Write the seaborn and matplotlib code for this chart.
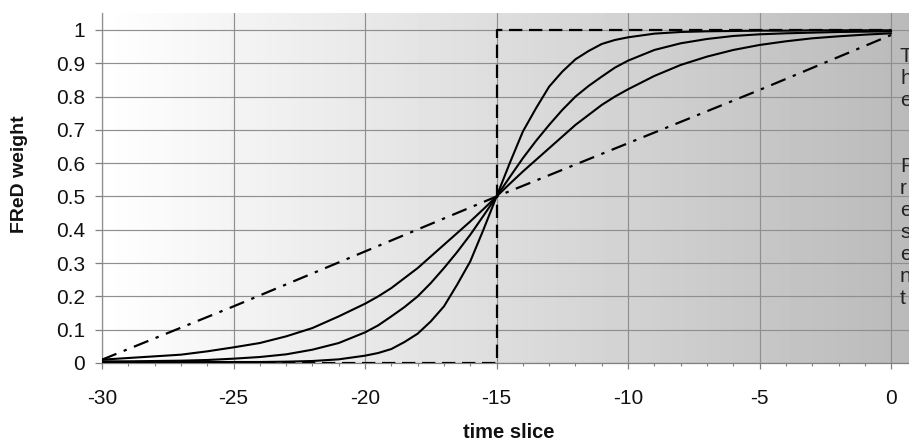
import numpy as np
import pandas as pd
import matplotlib
matplotlib.use("Agg")
import matplotlib.pyplot as plt
import seaborn as sns

# ---- data ----
time_slice = [-30, -29, -28, -27, -26, -25, -24, -23, -22, -21, -20,
              -19.5, -19, -18.5, -18, -17.5, -17, -16.5, -16, -15.5, -15,
              -14.5, -14, -13.5, -13, -12.5, -12, -11.5, -11, -10.5,
              -10, -9, -8, -7, -6, -5, -4, -3, -2, -1, 0]
curve_soft = [0.01, 0.015, 0.02, 0.025, 0.035, 0.047, 0.06, 0.08, 0.105, 0.14, 0.178,
              0.2, 0.225, 0.255, 0.285, 0.32, 0.355, 0.39, 0.425, 0.462, 0.5,
              0.538, 0.575, 0.61, 0.645, 0.68, 0.715, 0.745, 0.775, 0.8,
              0.822, 0.862, 0.895, 0.92, 0.94, 0.955, 0.966, 0.975, 0.981, 0.986, 0.99]
curve_mid = [0.005, 0.005, 0.006, 0.007, 0.009, 0.013, 0.018, 0.026, 0.04, 0.06, 0.092,
             0.113, 0.14, 0.168, 0.2, 0.24, 0.285, 0.333, 0.385, 0.442, 0.5,
             0.558, 0.615, 0.667, 0.715, 0.76, 0.8, 0.832, 0.86, 0.887,
             0.908, 0.94, 0.96, 0.973, 0.982, 0.987, 0.99, 0.992, 0.994, 0.995, 0.996]
curve_sharp = [0.003, 0.003, 0.003, 0.003, 0.003, 0.003, 0.003, 0.004, 0.006, 0.011, 0.022,
               0.03, 0.042, 0.063, 0.088, 0.125, 0.17, 0.235, 0.305, 0.4, 0.5,
               0.6, 0.695, 0.765, 0.83, 0.875, 0.912, 0.937, 0.958, 0.97,
               0.978, 0.989, 0.994, 0.996, 0.997, 0.998, 0.998, 0.999, 0.999, 0.999, 0.999]
linear_x = [-30, -25, -20, -15, -10, -5, 0]
linear_y = [0.01, 0.17, 0.335, 0.5, 0.66, 0.82, 0.985]
step_x = [-30, -15, -15, 0]
step_y = [0, 0, 1, 1]
x_ticks = [-30, -25, -20, -15, -10, -5, 0]
x_tick_labels = ["-30", "-25", "-20", "-15", "-10", "-5", "0"]
x_minor = list(range(-30, 1))
y_ticks = [0, 0.1, 0.2, 0.3, 0.4, 0.5, 0.6, 0.7, 0.8, 0.9, 1]
y_tick_labels = ["0", "0.1", "0.2", "0.3", "0.4", "0.5", "0.6", "0.7", "0.8", "0.9", "1"]
side_text = "T\nh\ne\n\n\nP\nr\ne\ns\ne\nn\nt"

sns.set_theme(style="white")
plt.rcParams['font.family'] = ['Liberation Sans', 'DejaVu Sans']

W, H = 909, 443
fig = plt.figure(figsize=(W / 100, H / 100), dpi=100)
ax = fig.add_axes([102 / W, (H - 363) / H, (W - 102) / W, (363 - 13) / H])

x_max = 0.68
y_max = 1.051
ax.set_xlim(-30, x_max)
ax.set_ylim(0, y_max)

# gradient background
grad = np.linspace(1.0, 0.73, 256).reshape(1, -1)
ax.imshow(grad, extent=[-30, x_max, 0, y_max], aspect='auto', cmap='gray',
          vmin=0, vmax=1, zorder=0, interpolation='bilinear')

ax.set_xticks(x_ticks)
ax.set_xticklabels(x_tick_labels)
ax.set_xticks(x_minor, minor=True)
ax.set_yticks(y_ticks)
ax.set_yticklabels(y_tick_labels)
ax.grid(True, which='major', color='#8f8f8f', linewidth=0.85, zorder=1)
ax.set_axisbelow(False)

gc = '#808080'
for s in ['top', 'right']:
    ax.spines[s].set_visible(False)
for s in ['left', 'bottom']:
    ax.spines[s].set_color(gc)
    ax.spines[s].set_linewidth(0.9)
ax.tick_params(axis='x', which='major', direction='out', length=4, width=0.9,
               color=gc, labelsize=15, pad=15, bottom=True, labelcolor='#111111')
ax.tick_params(axis='x', which='minor', direction='out', length=2.2, width=0.8,
               color=gc, bottom=True)
ax.tick_params(axis='y', which='major', direction='out', length=5, width=0.9,
               color=gc, labelsize=15, pad=7, left=True, labelcolor='#111111')

# curves
sns.lineplot(x=step_x, y=step_y, ax=ax, color='black', linewidth=1.6,
             estimator=None, sort=False, zorder=3)
ax.lines[-1].set_dashes([6, 3])
sns.lineplot(x=linear_x, y=linear_y, ax=ax, color='black', linewidth=1.6,
             estimator=None, sort=False, zorder=3)
ax.lines[-1].set_dashes([7, 3.5, 1.5, 3.5])
for yv in (curve_soft, curve_mid, curve_sharp):
    sns.lineplot(x=time_slice, y=yv, ax=ax, color='black', linewidth=1.5,
                 estimator=None, sort=False, zorder=3)

ax.set_xlabel("time slice", fontsize=14.5, fontweight='bold', color='#111111')
ax.set_ylabel("FReD weight", fontsize=14, fontweight='bold', color='#111111')
ax.xaxis.set_label_coords((509 - 102) / (W - 102), -(432 - 363) / (363 - 13))
ax.yaxis.set_label_coords(-(102 - 20) / (W - 102), (363 - 174) / (363 - 13))
ax.xaxis.label.set_va('center')
ax.yaxis.label.set_va('center')

fig.text(900 / W, 1 - 47 / H, side_text, fontsize=15, ha='left', va='top',
         linespacing=1.2, color='#222222')

fig.savefig("out.png", dpi=100)
